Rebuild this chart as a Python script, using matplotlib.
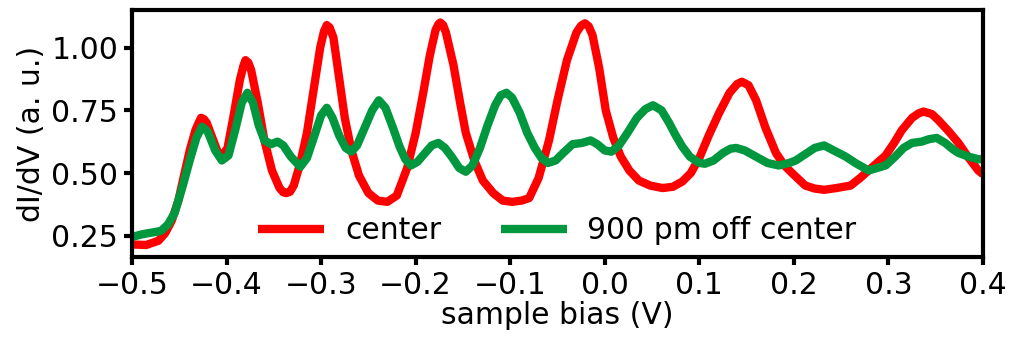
"""dI/dV spectra: center vs 900 pm off center."""

import matplotlib
matplotlib.use("Agg")
import matplotlib.pyplot as plt

# center spectrum (sample bias in V, dI/dV in a. u.)
bias_center = [
    -0.500, -0.485, -0.472, -0.465, -0.458, -0.451, -0.445, -0.439, -0.433, -0.429,
    -0.427, -0.424, -0.421, -0.415, -0.410, -0.405, -0.399, -0.393, -0.386, -0.382,
    -0.380, -0.377, -0.374, -0.367, -0.360, -0.352, -0.344, -0.340, -0.337, -0.333,
    -0.329, -0.322, -0.315, -0.308, -0.301, -0.297, -0.294, -0.291, -0.287, -0.281,
    -0.275, -0.268, -0.260, -0.250, -0.240, -0.230, -0.220, -0.209, -0.200, -0.192,
    -0.185, -0.179, -0.176, -0.174, -0.171, -0.168, -0.160, -0.153, -0.147, -0.138,
    -0.129, -0.118, -0.108, -0.098, -0.088, -0.080, -0.070, -0.059, -0.050, -0.040,
    -0.030, -0.025, -0.021, -0.017, -0.013, -0.006, 0.001, 0.009, 0.017, 0.026,
    0.036, 0.048, 0.061, 0.072, 0.082, 0.091, 0.100, 0.110, 0.121, 0.132,
    0.140, 0.145, 0.152, 0.160, 0.170, 0.181, 0.190, 0.198, 0.212, 0.222,
    0.232, 0.245, 0.260, 0.270, 0.279, 0.288, 0.297, 0.306, 0.314, 0.325,
    0.332, 0.337, 0.346, 0.353, 0.364, 0.374, 0.385, 0.395, 0.400,
]
didv_center = [
    0.215, 0.213, 0.230, 0.26, 0.31, 0.39, 0.49, 0.59, 0.67, 0.705,
    0.72, 0.715, 0.70, 0.64, 0.59, 0.565, 0.60, 0.72, 0.87, 0.93,
    0.95, 0.94, 0.91, 0.78, 0.63, 0.51, 0.44, 0.423, 0.42, 0.425,
    0.45, 0.54, 0.66, 0.83, 1.00, 1.065, 1.09, 1.08, 1.04, 0.88,
    0.72, 0.59, 0.49, 0.42, 0.39, 0.385, 0.41, 0.52, 0.66, 0.82,
    0.97, 1.07, 1.093, 1.10, 1.09, 1.06, 0.93, 0.78, 0.66, 0.55,
    0.47, 0.42, 0.39, 0.385, 0.39, 0.40, 0.48, 0.63, 0.79, 0.95,
    1.06, 1.088, 1.097, 1.085, 1.05, 0.92, 0.75, 0.64, 0.565, 0.51,
    0.47, 0.45, 0.44, 0.445, 0.466, 0.50, 0.56, 0.65, 0.74, 0.82,
    0.855, 0.864, 0.85, 0.79, 0.68, 0.58, 0.53, 0.50, 0.45, 0.438,
    0.433, 0.44, 0.45, 0.48, 0.51, 0.54, 0.57, 0.62, 0.67, 0.72,
    0.738, 0.745, 0.735, 0.71, 0.665, 0.62, 0.56, 0.51, 0.495,
]

# 900 pm off center spectrum
bias_off = [
    -0.500, -0.490, -0.483, -0.475, -0.469, -0.462, -0.455, -0.447, -0.439, -0.432,
    -0.426, -0.420, -0.412, -0.405, -0.398, -0.391, -0.384, -0.378, -0.372, -0.366,
    -0.360, -0.353, -0.346, -0.340, -0.332, -0.322, -0.315, -0.307, -0.300, -0.294,
    -0.288, -0.281, -0.274, -0.268, -0.262, -0.254, -0.246, -0.239, -0.232, -0.224,
    -0.217, -0.211, -0.205, -0.198, -0.190, -0.183, -0.176, -0.169, -0.161, -0.154,
    -0.147, -0.140, -0.132, -0.124, -0.116, -0.110, -0.104, -0.098, -0.090, -0.082,
    -0.074, -0.067, -0.060, -0.052, -0.044, -0.034, -0.024, -0.015, -0.008, 0.000,
    0.007, 0.015, 0.024, 0.034, 0.043, 0.051, 0.060, 0.068, 0.075, 0.082,
    0.090, 0.100, 0.106, 0.115, 0.125, 0.133, 0.139, 0.148, 0.160, 0.172,
    0.184, 0.195, 0.202, 0.212, 0.222, 0.232, 0.242, 0.255, 0.265, 0.279,
    0.288, 0.297, 0.307, 0.316, 0.325, 0.335, 0.343, 0.351, 0.360, 0.368,
    0.374, 0.385, 0.395, 0.400,
]
didv_off = [
    0.245, 0.255, 0.26, 0.265, 0.27, 0.295, 0.34, 0.44, 0.55, 0.64,
    0.685, 0.665, 0.59, 0.55, 0.57, 0.67, 0.78, 0.82, 0.78, 0.69,
    0.63, 0.615, 0.625, 0.61, 0.565, 0.525, 0.56, 0.65, 0.73, 0.76,
    0.72, 0.65, 0.60, 0.585, 0.61, 0.68, 0.75, 0.79, 0.76, 0.68,
    0.605, 0.555, 0.53, 0.545, 0.58, 0.61, 0.62, 0.60, 0.56, 0.52,
    0.505, 0.53, 0.60, 0.69, 0.77, 0.81, 0.82, 0.80, 0.74, 0.66,
    0.60, 0.56, 0.54, 0.55, 0.58, 0.615, 0.62, 0.63, 0.615, 0.59,
    0.585, 0.61, 0.66, 0.72, 0.755, 0.77, 0.75, 0.70, 0.65, 0.605,
    0.565, 0.54, 0.537, 0.55, 0.58, 0.597, 0.60, 0.59, 0.565, 0.54,
    0.53, 0.54, 0.55, 0.575, 0.60, 0.61, 0.59, 0.565, 0.54, 0.51,
    0.52, 0.53, 0.565, 0.60, 0.62, 0.625, 0.635, 0.64, 0.62, 0.595,
    0.58, 0.565, 0.555, 0.555,
]

xticks = [-0.5, -0.4, -0.3, -0.2, -0.1, 0.0, 0.1, 0.2, 0.3, 0.4]
yticks = [0.25, 0.50, 0.75, 1.00]

fig = plt.figure(figsize=(10.11, 3.38), dpi=100)
ax = fig.add_axes([0.1306, 0.2396, 0.8417, 0.7308])

line_kw = dict(lw=6, solid_joinstyle="round", solid_capstyle="butt")
ax.plot(bias_center, didv_center, color="#ff0000", label="center", **line_kw)
ax.plot(bias_off, didv_off, color="#00973f", label="900 pm off center", **line_kw)

ax.set_xlim(-0.5, 0.4)
ax.set_ylim(0.165, 1.15)
ax.set_xticks(xticks)
ax.set_yticks(yticks)
ax.set_xticklabels([f"{t:.1f}".replace("-", "\u2212") for t in xticks])
ax.set_yticklabels([f"{t:.2f}" for t in yticks])
ax.tick_params(labelsize=21.5, width=3, length=6, pad=4)
for s in ax.spines.values():
    s.set_linewidth(3)

ax.set_xlabel("sample bias (V)", fontsize=21.5, labelpad=1)
ax.set_ylabel("dI/dV (a. u.)", fontsize=21.5, labelpad=4)

ax.legend(loc="lower center", ncol=2, frameon=False, fontsize=21.5,
          handlelength=2.2, handletextpad=0.7, columnspacing=2.0,
          borderaxespad=0.0)

fig.savefig("out.png", dpi=100)
